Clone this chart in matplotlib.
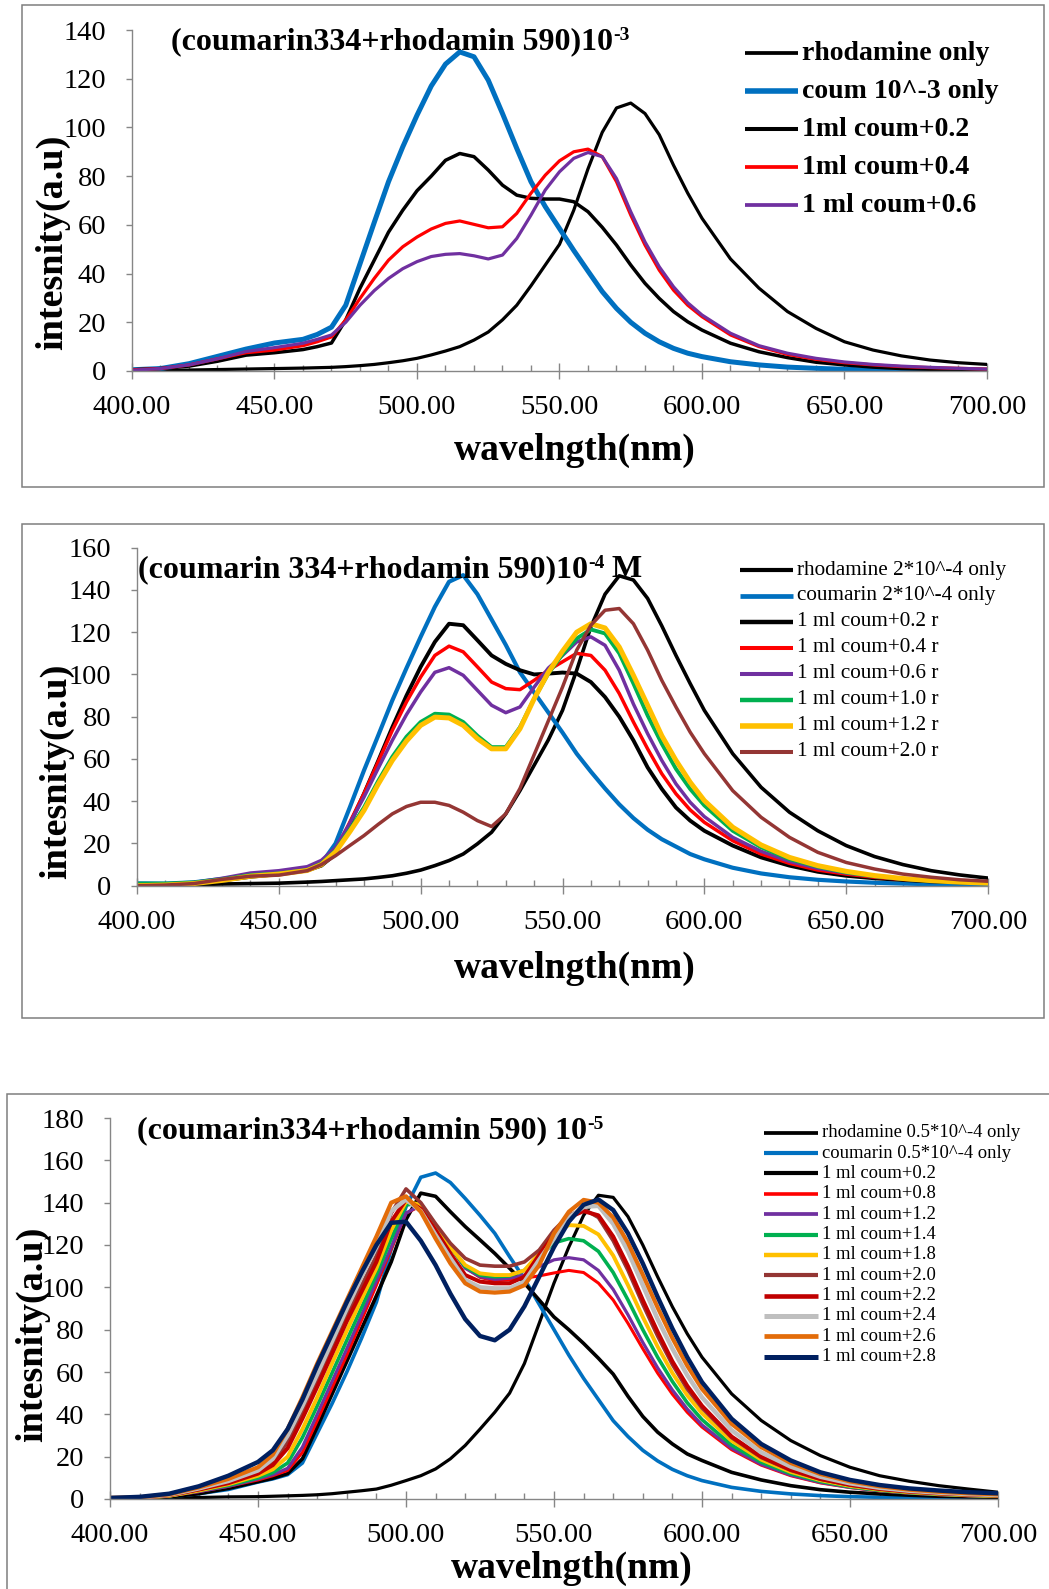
import matplotlib
matplotlib.use('Agg')
import matplotlib.pyplot as plt
import numpy as np
from matplotlib.lines import Line2D
from matplotlib.patches import Rectangle
from matplotlib.ticker import MultipleLocator, FormatStrFormatter

plt.rcParams['font.family'] = ['Liberation Serif', 'DejaVu Serif']

W, H = 1049, 1589

# wavelength grids (nm)
wl_12 = [400, 410, 420, 430, 440, 450, 460, 465, 470, 475, 480, 485, 490, 495,
         500, 505, 510, 515, 520, 525, 530, 535, 540, 545, 550, 555, 560, 565, 570,
         575, 580, 585, 590, 595, 600,
         610, 620, 630, 640, 650, 660, 670, 680, 690, 700]
wl_3 = [400, 410, 420, 430, 440, 450, 455, 460, 465, 470, 475, 480, 485, 490, 495,
        500, 505, 510, 515, 520, 525, 530, 535, 540, 545, 550, 555, 560, 565, 570,
        575, 580, 585, 590, 595, 600,
        610, 620, 630, 640, 650, 660, 670, 680, 690, 700]

# ---- panel 1: 10^-3 ----
p1_labels = ['rhodamine only', 'coum 10^-3 only', '1ml coum+0.2', '1ml coum+0.4', '1 ml coum+0.6']
p1_rhod = [0, 0.2, 0.4, 0.6, 0.8, 1.0, 1.2, 1.35, 1.5, 1.8, 2.2, 2.7, 3.4, 4.2,
           5.2, 6.6, 8.2, 10, 12.7, 16, 21, 27, 35, 43.5, 52, 66, 83, 98, 108, 110, 105.7, 97, 84.5, 73, 62.7,
           46, 34, 24.4, 17.5, 12, 8.6, 6.2, 4.5, 3.4, 2.7]
p1_coum = [0.5, 1, 3, 6, 9, 11.5, 13, 15, 18, 27, 44, 61, 77.7, 92,
           105, 117, 126, 131, 129, 119.4, 105.7, 91.4, 77.7, 67.5, 58.5, 49.5, 41, 32.6, 25.7, 20, 15.5, 12, 9.3, 7.3, 5.9,
           3.8, 2.5, 1.6, 1.1, 0.7, 0.4, 0.3, 0.2, 0.1, 0.1]
p1_mix02 = [0.5, 1, 2, 4, 6.5, 7.5, 8.8, 10, 11.5, 21, 34, 45.5, 57, 66,
            74, 80, 86.5, 89.3, 88, 82.5, 76.3, 72.2, 70.9, 70.6, 70.6, 69.5, 65.4, 59, 51.7, 43.5, 36, 29.8, 24.4, 20.2, 16.8,
            11.4, 7.9, 5.5, 3.6, 2.5, 1.6, 1.0, 0.7, 0.5, 0.3]
p1_mix04 = [0.5, 1, 2.5, 5, 7.5, 8.6, 10.4, 12, 14, 21, 29.8, 38, 45.5, 51,
            55, 58.3, 60.6, 61.6, 60.2, 58.8, 59.2, 64.7, 73, 80.4, 86.3, 90, 91.1, 88, 77.7, 64, 51.7, 41.4, 33.2, 27, 22.3,
            14.8, 10, 6.8, 4.8, 3.4, 2.5, 1.8, 1.4, 1.1, 0.8]
p1_mix06 = [0.3, 1, 2.5, 5, 8, 9.6, 11.4, 13, 14.8, 20, 27, 33, 38, 42,
            44.9, 47, 47.9, 48.2, 47.3, 46, 47.6, 54.4, 64, 74.3, 81.8, 87.3, 89.7, 88, 79, 65.4, 53, 42.8, 34.6, 28, 23,
            15.5, 10.4, 7.3, 5.2, 3.7, 2.7, 2.0, 1.5, 1.1, 0.8]

# ---- panel 2: 10^-4 ----
p2_labels = ['rhodamine 2*10^-4 only', 'coumarin 2*10^-4 only', '1 ml coum+0.2 r', '1 ml coum+0.4 r',
             '1 ml coum+0.6 r', '1 ml coum+1.0 r', '1 ml coum+1.2 r', '1 ml coum+2.0 r']
p2_rhod = [0, 0.2, 0.5, 0.8, 1.0, 1.2, 1.7, 2.0, 2.4, 2.8, 3.2, 3.9, 4.7, 5.9,
           7.4, 9.5, 11.9, 15, 19.8, 25.3, 34, 45, 57, 69, 83, 102, 122.5, 138, 146.7, 144.7, 136, 123, 109, 95.7, 83,
           62.5, 46.6, 34.8, 26, 19, 13.8, 10, 7.1, 5.1, 3.6]
p2_coum = [1.1, 1, 1.6, 3.2, 5, 6.3, 7.9, 10.5, 20, 37, 54.5, 71, 87.7, 103,
           117.8, 132, 143.9, 147, 138, 126, 114, 101, 91.5, 82, 72.5, 62.5, 54, 46, 38.5, 32, 26.5, 22, 18.5, 15, 12.5,
           8.5, 5.8, 4, 2.8, 2, 1.4, 1, 0.7, 0.5, 0.4]
p2_mix02 = [0.5, 0.7, 1.2, 2.5, 4.2, 5.5, 7.2, 9.5, 15, 29, 43.5, 59, 75, 90,
            103.6, 115.4, 124, 123.3, 116.2, 109, 105, 102, 100, 100.4, 100.9, 100.4, 96.4, 89.3, 80, 68.8, 56, 45.8, 37, 30.8, 26,
            19, 13.4, 9.5, 6.6, 4.7, 3.5, 2.7, 2, 1.6, 1.3]
p2_mix04 = [0.5, 0.7, 1.2, 2.7, 4.5, 5.8, 7.5, 10, 16.6, 30, 43.5, 58.5, 73.5, 87,
            98.8, 109, 113.4, 110.7, 103.6, 96.4, 93.3, 92.8, 97.2, 102, 106, 110, 109, 102, 91, 77.5, 64.8, 53, 43.5, 35.9, 30,
            21.3, 15, 10.6, 7.4, 5.5, 4, 3, 2.4, 1.9, 1.6]
p2_mix06 = [0.5, 0.8, 1.5, 3.5, 6, 7.1, 9, 12, 18, 29.5, 41.9, 55.5, 68.8, 81,
            91.7, 101, 103.2, 99.6, 92.5, 85.4, 81.9, 84.6, 94, 103, 109, 115.4, 117.8, 113.8, 102, 86, 72, 59.3, 48.2, 39.5, 32.7,
            22.9, 16.3, 11.5, 8.2, 6, 4.4, 3.2, 2.5, 1.9, 1.5]
p2_mix10 = [1, 1, 1.5, 3, 5, 5.8, 7.4, 10.5, 16.6, 26.5, 37, 49.5, 61, 70.5,
            77.5, 81.4, 81, 77.5, 71, 65.6, 65.6, 75, 88.5, 100.4, 109.5, 117, 121.3, 119.4, 110, 95.7, 80.6, 67.2, 55.3, 45.8, 38,
            26, 18.2, 12.6, 9, 6.3, 4.5, 3.2, 2.3, 1.7, 1.3]
p2_mix12 = [0, 0.3, 1, 2.5, 4.5, 5.5, 7.2, 10, 16, 25.5, 35.6, 48, 59.3, 68.5,
            75.9, 79.8, 79.4, 75.9, 69.6, 64.8, 64.8, 74.3, 88.5, 101, 111, 120, 124, 122, 113, 99.6, 85.4, 71, 59.3, 49, 40.3,
            27.7, 19.3, 13.4, 9.5, 6.8, 4.8, 3.4, 2.4, 1.7, 1.2]
p2_mix20 = [0, 0.3, 1, 3, 4.5, 5, 7.1, 10, 14.2, 19, 23.7, 29, 34, 37.5,
            39.5, 39.5, 38, 34.8, 30.8, 28, 34, 46, 62, 78, 94, 111.5, 123.3, 130.4, 131.2, 124, 111.5, 97.2, 84.6, 72.7, 62.5,
            45, 32.4, 22.9, 15.8, 11, 7.9, 5.5, 4, 2.8, 2.1]

# ---- panel 3: 10^-5 ----
p3_labels = ['rhodamine 0.5*10^-4 only', 'coumarin 0.5*10^-4 only', '1 ml coum+0.2', '1 ml coum+0.8',
             '1 ml coum+1.2', '1 ml coum+1.4', '1 ml coum+1.8', '1 ml coum+2.0', '1 ml coum+2.2',
             '1 ml coum+2.4', '1 ml coum+2.6', '1 ml coum+2.8']
p3_rhod = [0, 0.2, 0.5, 0.7, 1, 1.1, 1.3, 1.5, 1.7, 2, 2.5, 3.2, 3.9, 4.7, 6.5,
           8.7, 11, 14.2, 19, 25.3, 33, 41, 50, 64, 83, 102, 119, 134, 143.5, 142.5, 133.4, 120, 105, 90.8, 78.1, 67,
           49.7, 37.1, 27.6, 20.5, 15, 11, 8.4, 6.3, 4.7, 3.2]
p3_coum = [0, 0.3, 1, 2.5, 4.5, 8, 9.5, 11.5, 17, 31, 45, 60, 76, 93, 118,
           138, 152, 154, 149.5, 142, 134, 125.5, 114.5, 104, 92, 80, 68, 57, 47, 37, 29.5, 23, 18, 14, 11, 8.7,
           5.5, 3.6, 2.4, 1.6, 1.1, 0.8, 0.6, 0.4, 0.3, 0.2]
p3_mix02 = [0, 0.3, 1, 2.5, 5, 8.2, 9.8, 12, 19, 34, 49.5, 65, 80.5, 96, 112,
            132, 144.5, 143, 135.7, 128.7, 122.4, 116, 109, 102, 94, 86, 80, 73.5, 66.5, 59, 48.5, 39, 31.6, 26, 21.3, 18.2,
            12.6, 9, 6.3, 4.4, 3.2, 2.4, 1.8, 1.3, 1, 0.8]
p3_mix08 = [0.5, 0.5, 1.5, 3.5, 6, 9, 11, 13.5, 22, 37, 52.5, 68, 84.5, 101, 118,
            135, 138.5, 129.5, 119.5, 109.4, 104.7, 103.1, 103.5, 104.3, 105.4, 106.8, 108, 107, 102, 94, 83, 71, 59.5, 49.5, 41, 34,
            23.3, 16, 11, 7.6, 5.4, 3.8, 2.8, 2, 1.5, 1.2]
p3_mix12 = [0.5, 0.5, 1.5, 3.5, 6, 9.5, 11.5, 14.5, 24.5, 40, 55.5, 71, 87, 103, 119,
            135, 139, 129, 119, 109, 105, 103.8, 104.3, 105.8, 109.8, 113, 114, 113, 108, 99, 87, 74, 62, 51.5, 42.5, 35,
            24, 16.4, 11.3, 7.8, 5.5, 3.9, 2.8, 2.1, 1.6, 1.2]
p3_mix14 = [0.5, 0.5, 1.5, 4, 6.5, 10, 12.5, 17, 29, 44, 59.5, 75, 90.5, 106, 123,
            139, 139.5, 129.4, 119, 109.8, 105.8, 105, 105.4, 108, 114.5, 121, 123, 122, 117, 107, 94, 80, 67, 55.5, 45.5, 37.5,
            25.5, 17.4, 12, 8.3, 5.8, 4.1, 3, 2.2, 1.7, 1.3]
p3_mix18 = [0.5, 0.5, 1.5, 4, 7, 11, 14, 20, 33, 48, 64, 79.5, 94.5, 109, 127,
            140.5, 139, 129.4, 119, 110.5, 106.6, 105.8, 105.8, 108, 116, 125, 129.4, 129, 125, 115, 101, 86, 72, 59.5, 49, 40.5,
            27.5, 18.6, 12.8, 8.9, 6.2, 4.4, 3.2, 2.4, 1.8, 1.4]
p3_mix20 = [0.5, 0.5, 1.8, 4.5, 8, 12.5, 17, 27, 41, 56, 71.5, 87, 101, 115, 135,
            146.5, 140, 130, 120.8, 113.7, 110.5, 110, 110, 112, 117.6, 127, 134, 137, 133, 122, 108, 92, 77, 63.5, 52, 43,
            29, 19.6, 13.5, 9.3, 6.6, 4.7, 3.5, 2.6, 2, 1.6]
p3_mix22 = [0.5, 0.5, 1.8, 4.5, 7.5, 12, 16, 24, 38, 53, 68.5, 84, 98, 112, 131,
            141.5, 137, 127, 116, 105.8, 102.7, 101.9, 101.9, 105, 115.3, 124.7, 133, 136, 134, 124, 110, 94, 79, 65, 53.5, 44,
            29.5, 20, 13.8, 9.5, 6.7, 4.8, 3.5, 2.7, 2.1, 1.7]
p3_mix24 = [0.5, 0.7, 2, 5, 8.5, 13.5, 19, 30, 44, 59, 74.5, 90, 105, 119, 136,
            141.5, 136, 124.7, 113.7, 103.5, 100, 99.5, 99.5, 102.7, 113, 123, 133, 138, 138.5, 130, 117, 101, 85, 71, 58.5, 48,
            32.5, 22, 15.3, 10.5, 7.4, 5.3, 3.9, 3, 2.3, 1.9]
p3_mix26 = [0.5, 0.8, 2.2, 5.5, 9.5, 15, 21, 33, 48, 64, 79, 94, 109, 124, 140,
            143, 135.7, 123, 111.3, 101.9, 98, 97.5, 98, 101, 110.5, 125.5, 135.7, 141.3, 140, 133, 121, 106, 90.5, 76, 63, 52,
            35.5, 24.5, 17, 11.8, 8.3, 6, 4.4, 3.4, 2.7, 2.2]
p3_mix28 = [0.5, 1, 2.5, 6, 11, 17.5, 23, 33, 47, 63, 78, 93, 107, 120, 130.5,
            131, 122, 110.5, 97, 85, 77, 75, 80, 91, 105, 119, 131, 139, 141.5, 136.5, 125.5, 111.3, 95.5, 80.5, 67, 55.2,
            37.9, 26, 18.2, 12.6, 9, 6.6, 5, 4, 3.2, 2.7]

BLACK, BLUE, RED, PURPLE = '#000000', '#0070C0', '#FF0000', '#7030A0'
GREEN, YELLOW, BROWN, DARKRED = '#00B050', '#FFC000', '#943634', '#C00000'
GRAY, ORANGE, NAVY = '#BFBFBF', '#E36C09', '#002060'
AXCOL = '#868686'

fig = plt.figure(figsize=(W / 100, H / 100), dpi=100)
renderer = fig.canvas.get_renderer()


def px_axes(left, top, right, bottom):
    return fig.add_axes([left / W, 1 - bottom / H, (right - left) / W, (bottom - top) / H])


def rich_title(x, y, parts):
    # parts: (text, superscript?) drawn one after another on a common baseline
    cx = x
    for txt, sup in parts:
        yy = y - 9 if sup else y
        t = fig.text(cx / W, 1 - yy / H, txt, fontsize=14 if sup else 23, fontweight='bold',
                     ha='left', va='baseline')
        cx = t.get_window_extent(renderer).x1


def draw_panel(box, frame, ymax, wl, series, title_parts, title_xy, xlab_xy, ylab_xy, leg):
    bx0, by0, bx1, by1 = box
    fig.add_artist(Rectangle((bx0 / W, 1 - by1 / H), (bx1 - bx0) / W, (by1 - by0) / H,
                             transform=fig.transFigure, fill=False, ec='#7f7f7f', lw=1.1))
    ax = px_axes(*frame)
    lines = []
    for vals, col, lw in series:
        ln, = ax.plot(wl, vals, color=col, lw=lw, solid_joinstyle='round')
        lines.append(ln)
    ax.set_xlim(400, 700)
    ax.set_ylim(0, ymax)
    ax.set_xticks(np.arange(400, 701, 50))
    ax.xaxis.set_minor_locator(MultipleLocator(10))
    ax.xaxis.set_major_formatter(FormatStrFormatter('%.2f'))
    ax.set_yticks(np.arange(0, ymax + 1, 20))
    for s in ['top', 'right']:
        ax.spines[s].set_visible(False)
    for s in ['left', 'bottom']:
        ax.spines[s].set_color(AXCOL)
        ax.spines[s].set_linewidth(1.0)
    ax.tick_params(axis='x', which='major', direction='inout', length=11, width=1,
                   color=AXCOL, pad=12, labelsize=20.5)
    ax.tick_params(axis='x', which='minor', direction='in', length=4.5, width=1, color=AXCOL)
    ax.tick_params(axis='y', which='major', direction='out', length=4.5, width=1,
                   color=AXCOL, pad=14, labelsize=20.5)
    ax.patch.set_alpha(0)

    left, top, right, bottom = frame
    ax.set_xlabel('wavelngth(nm)', fontsize=27, fontweight='bold')
    ax.xaxis.label.set_va('center')
    ax.xaxis.set_label_coords((xlab_xy[0] - left) / (right - left), (bottom - xlab_xy[1]) / (bottom - top))
    ax.set_ylabel('intesnity(a.u)', fontsize=27.5, fontweight='bold')
    ax.yaxis.label.set_va('center')
    ax.yaxis.set_label_coords((ylab_xy[0] - left) / (right - left), (bottom - ylab_xy[1]) / (bottom - top))

    rich_title(title_xy[0], title_xy[1], title_parts)

    labels, lx0, lx1, tx, ly0, dy, fs, fw = leg
    for i, (ln, lab) in enumerate(zip(lines, labels)):
        y = 1 - (ly0 + i * dy) / H
        fig.add_artist(Line2D([lx0 / W, lx1 / W], [y, y], transform=fig.transFigure,
                              color=ln.get_color(), lw=ln.get_linewidth() + 0.4, solid_capstyle='butt'))
        fig.text(tx / W, y, lab, fontsize=fs, fontweight=fw, ha='left', va='center')
    return ax


draw_panel((22, 5, 1044, 487), (132, 30, 987, 371), 140, wl_12,
           [(p1_rhod, BLACK, 2.3), (p1_coum, BLUE, 3.6), (p1_mix02, BLACK, 2.5),
            (p1_mix04, RED, 2.3), (p1_mix06, PURPLE, 2.3)],
           [('(coumarin334+rhodamin 590)10', False), ('-3', True)], (171, 49),
           (575, 450), (53, 242),
           (p1_labels, 745, 798, 802, 53, 38, 20, 'bold'))

draw_panel((22, 524, 1044, 1018), (137, 547.7, 988, 885.7), 160, wl_12,
           [(p2_rhod, BLACK, 2.6), (p2_coum, BLUE, 3.0), (p2_mix02, BLACK, 2.8),
            (p2_mix04, RED, 2.5), (p2_mix06, PURPLE, 2.5), (p2_mix10, GREEN, 2.8),
            (p2_mix12, YELLOW, 3.6), (p2_mix20, BROWN, 2.5)],
           [('(coumarin 334+rhodamin 590)10', False), ('-4', True), (' M', False)], (138, 577),
           (575, 968), (57, 771),
           (p2_labels, 740, 793, 797, 570, 25.96, 15.3, 'normal'))

draw_panel((7, 1094, 1070, 1610), (110, 1118, 998, 1499), 180, wl_3,
           [(p3_rhod, BLACK, 2.3), (p3_coum, BLUE, 2.6), (p3_mix02, BLACK, 2.6),
            (p3_mix08, RED, 2.2), (p3_mix12, PURPLE, 2.3), (p3_mix14, GREEN, 2.6),
            (p3_mix18, YELLOW, 2.8), (p3_mix20, BROWN, 2.6), (p3_mix22, DARKRED, 2.9),
            (p3_mix24, GRAY, 3.2), (p3_mix26, ORANGE, 3.0), (p3_mix28, NAVY, 3.2)],
           [('(coumarin334+rhodamin 590) 10', False), ('-5', True)], (137, 1138),
           (572, 1568), (33, 1334),
           (p3_labels, 764, 818, 822, 1132.7, 20.36, 13.4, 'normal'))

fig.savefig('out.png', dpi=100)
